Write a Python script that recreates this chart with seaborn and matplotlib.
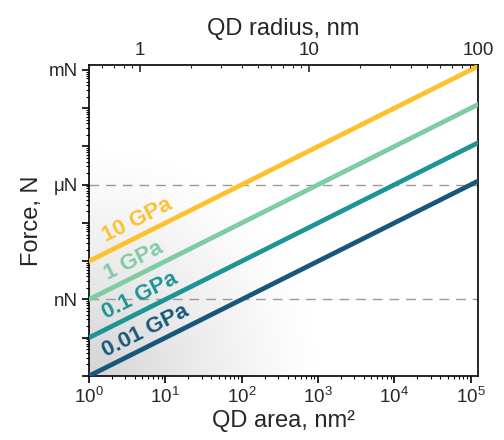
import numpy as np
import pandas as pd
import matplotlib
matplotlib.use("Agg")
import matplotlib.pyplot as plt
import matplotlib.ticker as mticker
import seaborn as sns

# ---- data ----
pressure_labels = ["10 GPa", "1 GPa", "0.1 GPa", "0.01 GPa"]
pressures_gpa = [10, 1, 0.1, 0.01]
line_colors = ["#FEC12E", "#7FCBA4", "#1F9494", "#17587A"]
area_nm2 = [1.0, 1.25e5]          # QD area range, nm^2
force_ticks = [1e-3, 1e-6, 1e-9]
force_tick_labels = ["mN", "μN", "nN"]
area_ticks = [1e0, 1e1, 1e2, 1e3, 1e4, 1e5]
radius_ticks = [1, 10, 100]
radius_range = [0.5, 100]
label_area = [4.1, 3.7, 4.5, 5.4]   # where labels sit along each line

rows = []
for lab, p in zip(pressure_labels, pressures_gpa):
    for a in area_nm2:
        rows.append({"pressure": lab, "area": a, "force": p * 1e9 * a * 1e-18})
df = pd.DataFrame(rows)

sns.set_theme(style="white")
plt.rcParams["font.family"] = ["Liberation Sans", "DejaVu Sans"]
plt.rcParams["mathtext.fontset"] = "custom"
plt.rcParams["mathtext.rm"] = "Liberation Sans"
plt.rcParams["mathtext.it"] = "Liberation Sans"

fig = plt.figure(figsize=(5.04, 4.40), dpi=100)
ax = fig.add_axes([89 / 504, 1 - 376 / 440, (478 - 89) / 504, (376 - 65) / 440])

# background gradient (lower-left gray)
ny, nx = 200, 250
yy, xx = np.mgrid[0:1:ny * 1j, 0:1:nx * 1j]
r = np.sqrt((xx * 389 / 230) ** 2 + (yy * 311 / 230) ** 2)
g = np.clip(1 - r, 0, 1) ** 1.2 * 0.85
img = np.ones((ny, nx, 4))
img[..., :3] = 0.80
img[..., 3] = g
ax.imshow(img, extent=[0, 1, 0, 1], origin="lower", transform=ax.transAxes,
          aspect="auto", zorder=0, interpolation="bilinear")

sns.lineplot(data=df, x="area", y="force", hue="pressure",
             hue_order=pressure_labels, palette=line_colors,
             linewidth=3.4, legend=False, ax=ax, zorder=3)

ax.set_xscale("log")
ax.set_yscale("log")
ax.set_xlim(area_nm2[0], area_nm2[1])
ax.set_ylim(1e-11, 1.35e-3)

for yv in [1e-6, 1e-9]:
    ax.axhline(yv, color="#9a9a9a", lw=1.0, dashes=(7, 5), zorder=2)

# y axis ticks
ax.yaxis.set_major_locator(mticker.FixedLocator([10.0 ** k for k in range(-11, -2)]))
lab_map = dict(zip(force_ticks, force_tick_labels))
def yfmt(v, pos):
    for k, s in lab_map.items():
        if abs(np.log10(v) - np.log10(k)) < 1e-6:
            return s
    return ""
ax.yaxis.set_major_formatter(mticker.FuncFormatter(yfmt))
ax.yaxis.set_minor_locator(mticker.LogLocator(base=10, subs=np.arange(2, 10), numticks=30))
ax.yaxis.set_minor_formatter(mticker.NullFormatter())

ax.xaxis.set_major_locator(mticker.FixedLocator(area_ticks))
ax.xaxis.set_major_formatter(mticker.FuncFormatter(lambda v, p: r"$10^{%d}$" % round(np.log10(v))))
ax.xaxis.set_minor_locator(mticker.LogLocator(base=10, subs=np.arange(2, 10), numticks=30))
ax.xaxis.set_minor_formatter(mticker.NullFormatter())

ax.tick_params(axis="both", which="major", direction="out", length=5, width=1.2,
               labelsize=13.5, color="black", pad=3)
ax.tick_params(axis="both", which="minor", direction="out", length=2.5, width=0.8, color="black")
ax.tick_params(axis="x", which="both", bottom=True, top=False)
ax.tick_params(axis="y", which="both", left=True, right=False)

for s in ax.spines.values():
    s.set_color("black")
    s.set_linewidth(1.2)

ax.set_xlabel("QD area, nm²", fontsize=17, labelpad=2)
ax.set_ylabel("Force, N", fontsize=17, labelpad=4)

# top axis
ax2 = ax.twiny()
ax2.set_xscale("log")
ax2.set_xlim(*radius_range)
ax2.xaxis.set_major_locator(mticker.FixedLocator(radius_ticks))
ax2.xaxis.set_major_formatter(mticker.FuncFormatter(lambda v, p: "%g" % v))
ax2.xaxis.set_minor_locator(mticker.LogLocator(base=10, subs=np.arange(2, 10), numticks=30))
ax2.xaxis.set_minor_formatter(mticker.NullFormatter())
ax2.tick_params(axis="x", which="major", direction="in", length=5, width=1.2,
                labelsize=13.5, pad=4, top=True, bottom=False)
ax2.tick_params(axis="x", which="minor", direction="in", length=2.5, width=0.8, top=True, bottom=False)
ax2.set_xlabel("QD radius, nm", fontsize=17, labelpad=5)
for s in ax2.spines.values():
    s.set_visible(False)

# line labels
p0 = ax.transData.transform((1, 1e-9))
p1 = ax.transData.transform((10, 1e-8))
angle = np.degrees(np.arctan2(p1[1] - p0[1], p1[0] - p0[0]))
for lab, p, c, la in zip(pressure_labels, pressures_gpa, line_colors, label_area):
    ax.annotate(lab, xy=(la, p * 1e9 * la * 1e-18), xytext=(0, 14),
                textcoords="offset points", ha="center", va="center_baseline",
                rotation=angle, rotation_mode="anchor", color=c,
                fontsize=16, fontweight="bold", zorder=4)

fig.savefig("out.png", dpi=100)
